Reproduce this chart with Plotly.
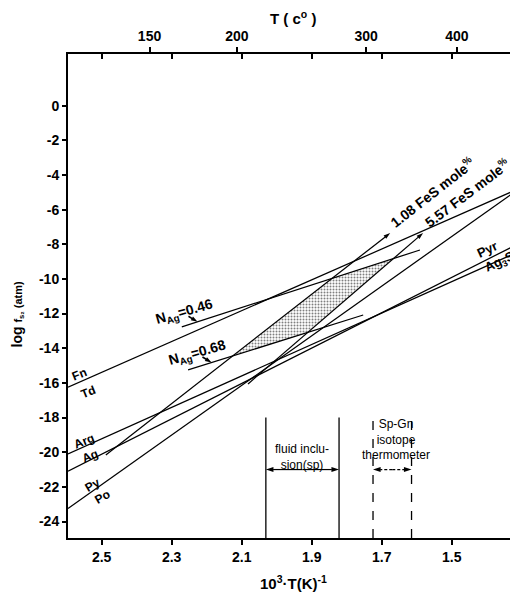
import numpy as np
import plotly.graph_objects as go

# ---------------- data (x = 10^3/T(K), y = log fS2 (atm)) ----------------
x_range = [2.596, 1.311]
y_range = [-24.95, 2.98]
x_ticks = [2.5, 2.3, 2.1, 1.9, 1.7, 1.5]
x_ticktext = ["2.5", "2.3", "2.1", "1.9", "1.7", "1.5"]
y_ticks = [0, -2, -4, -6, -8, -10, -12, -14, -16, -18, -20, -22, -24]
y_ticktext = ["0", "-2", "-4", "-6", "-8", "-10", "-12", "-14", "-16", "-18", "-20", "-22", "-24"]
t_celsius = [150, 200, 300, 400]

fn_td_x = [2.596, 1.311]
fn_td_y = [-16.25, -4.81]
arg_ag_x = [2.596, 1.311]
arg_ag_y = [-20.10, -8.44]
pyr_ag3sb_x = [2.596, 1.311]
pyr_ag3sb_y = [-21.10, -7.98]
py_po_x = [2.596, 1.311]
py_po_y = [-23.25, -4.84]
nag046_x = [2.271, 1.591]
nag046_y = [-12.77, -8.33]
nag068_x = [2.253, 1.753]
nag068_y = [-15.25, -12.08]
fes108_x = [2.488, 1.676]
fes108_y = [-20.16, -7.35]
fes557_x = [2.082, 1.582]
fes557_y = [-16.06, -7.35]

fluid_x = [2.031, 1.822]
isotope_x = [1.725, 1.615]
bracket_top = -18.0
bracket_arrow_y = -21.0

FONT = "Liberation Sans, Arial, Helvetica, sans-serif"

fig = go.Figure()


def coeffs(x, y):
    s = (y[1] - y[0]) / (x[1] - x[0])
    return s, y[0] - s * x[0]


def intersect(a, b):
    s1, c1 = coeffs(*a)
    s2, c2 = coeffs(*b)
    xi = (c2 - c1) / (s1 - s2)
    return xi, s1 * xi + c1


L108 = (fes108_x, fes108_y)
L557 = (fes557_x, fes557_y)
L046 = (nag046_x, nag046_y)
L068 = (nag068_x, nag068_y)
corners = [intersect(L108, L068), intersect(L108, L046),
           intersect(L557, L046), intersect(L557, L068)]
poly_x = [c[0] for c in corners] + [corners[0][0]]
poly_y = [c[1] for c in corners] + [corners[0][1]]

# stippled field
fig.add_trace(go.Scatter(
    x=poly_x, y=poly_y, mode="lines", fill="toself",
    line=dict(color="rgba(0,0,0,0)", width=0),
    fillcolor="white",
    fillpattern=dict(shape=".", fgcolor="black", bgcolor="white", size=3, solidity=0.35),
    hoverinfo="skip", showlegend=False))


def add_line(x, y, dash=None, width=1.25, arrow=0):
    fig.add_trace(go.Scatter(
        x=x, y=y, mode="lines+markers" if arrow else "lines",
        line=dict(color="black", width=width, dash=dash),
        marker=dict(symbol="arrow", angleref="previous", size=arrow, color="black",
                    line=dict(width=0)),
        hoverinfo="skip", showlegend=False))


for xs, ys in [(fn_td_x, fn_td_y), (arg_ag_x, arg_ag_y), (pyr_ag3sb_x, pyr_ag3sb_y),
               (py_po_x, py_po_y), (nag046_x, nag046_y), (nag068_x, nag068_y)]:
    add_line(xs, ys)
# FeS isopleths end in a small arrowhead
add_line(fes108_x, fes108_y, arrow=7)
add_line(fes557_x, fes557_y, arrow=7)

# NAg pointers (short arrows from the labels onto the isopleths)
for lx, ly, xp in [(nag046_x, nag046_y, 2.226), (nag068_x, nag068_y, 2.186)]:
    yp = float(np.interp(xp, lx[::-1], ly[::-1]))
    add_line([xp + 0.026, xp], [yp + 0.32, yp], width=1.6, arrow=7)

# temperature brackets
for xv in fluid_x:
    add_line([xv, xv], [y_range[0], bracket_top], width=1.3)
for xv in isotope_x:
    add_line([xv, xv], [y_range[0], bracket_top], dash="dash", width=1.3)
fluid_mid = sum(fluid_x) / 2
iso_mid = sum(isotope_x) / 2
for xv in fluid_x:
    add_line([fluid_mid, xv], [bracket_arrow_y, bracket_arrow_y], width=1.2, arrow=8)
for xv in isotope_x:
    add_line([iso_mid, xv], [bracket_arrow_y, bracket_arrow_y], dash="3px,2px", width=1.2, arrow=8)

# dummy traces for the top axes
fig.add_trace(go.Scatter(x=[], y=[], xaxis="x2", showlegend=False, hoverinfo="skip"))
fig.add_trace(go.Scatter(x=[], y=[], xaxis="x3", showlegend=False, hoverinfo="skip"))

ann = []


def label(text, x, y, angle=0, size=12, weight="bold"):
    ann.append(dict(text=text, x=x, y=y, xref="x", yref="y", showarrow=False,
                    textangle=angle, xanchor="center", yanchor="middle",
                    font=dict(family=FONT, size=size, color="black", weight=weight)))


label("Fn", 2.562, -15.48, -22, 12)
label("Td", 2.538, -16.52, -22, 12)
label("Arg", 2.548, -19.38, -22, 12)
label("Ag", 2.532, -20.21, -22, 12)
label("Py", 2.526, -21.89, -30, 12)
label("Po", 2.498, -22.61, -30, 12)
label("N<sub>Ag</sub>=0.46", 2.262, -11.92, -16, 14)
label("N<sub>Ag</sub>=0.68", 2.225, -14.30, -16, 14)
label("1.08 FeS mole<sup>%</sup>", 1.556, -4.98, -38, 14)
label("5.57 FeS mole<sup>%</sup>", 1.458, -5.04, -37, 14)
label("Pyr", 1.399, -8.33, -25, 13)
label("Ag<sub>3</sub>Sb", 1.352, -8.95, -25, 13)
label("fluid inclu-<br>sion(sp)", fluid_mid, -20.3, 0, 12, "normal")
label("Sp-Gn<br>isotope<br>thermometer", 1.659, -19.29, 0, 12, "normal")

# axis titles
ann.append(dict(text="10<sup>3</sup>·T(K)<sup>-1</sup>", x=0.5, y=-0.091, xref="paper", yref="paper",
                showarrow=False, xanchor="center", yanchor="middle",
                font=dict(family=FONT, size=15, color="black", weight="bold")))
ann.append(dict(text="T ( c<sup>o</sup> )", x=0.5, y=1.075, xref="paper", yref="paper",
                showarrow=False, xanchor="center", yanchor="middle",
                font=dict(family=FONT, size=15, color="black", weight="bold")))
ann.append(dict(text="log <span style='font-size:11px'>f<sub>s₂</sub> (atm)</span>", x=-0.112, y=0.463,
                xref="paper", yref="paper", showarrow=False, textangle=-90,
                xanchor="center", yanchor="middle",
                font=dict(family=FONT, size=14, color="black", weight="bold")))

tickfont = dict(family=FONT, size=14, color="black", weight="bold")

# the page body adds an 8px margin, so the figure is offset accordingly
fig.update_layout(
    width=510, height=587,
    margin=dict(l=60, r=0, t=46, b=57),
    paper_bgcolor="white", plot_bgcolor="white",
    showlegend=False,
    annotations=ann,
    xaxis=dict(range=x_range, tickvals=x_ticks, ticktext=x_ticktext, ticks="outside",
               ticklen=5, tickwidth=1.5, tickcolor="black", showline=True, linewidth=2,
               linecolor="black", showgrid=False, zeroline=False, tickfont=tickfont),
    xaxis2=dict(range=x_range, overlaying="x", side="top", anchor="y",
                tickvals=[1000.0 / (t + 273.15) for t in t_celsius],
                ticktext=[str(t) for t in t_celsius], ticks="outside", ticklen=5,
                tickwidth=1.5, tickcolor="black", showline=True, linewidth=2,
                linecolor="black", showgrid=False, zeroline=False, tickfont=tickfont),
    xaxis3=dict(range=x_range, overlaying="x", side="top", anchor="y",
                tickvals=x_ticks, ticks="inside", ticklen=5, tickwidth=1.5,
                tickcolor="black", showticklabels=False, showline=False,
                showgrid=False, zeroline=False),
    yaxis=dict(range=y_range, tickvals=y_ticks, ticktext=y_ticktext, ticks="outside",
               ticklen=4, tickwidth=1.5, tickcolor="black", showline=True, linewidth=2,
               linecolor="black", showgrid=False, zeroline=False, tickfont=tickfont),
)

fig.write_html("out.html")
